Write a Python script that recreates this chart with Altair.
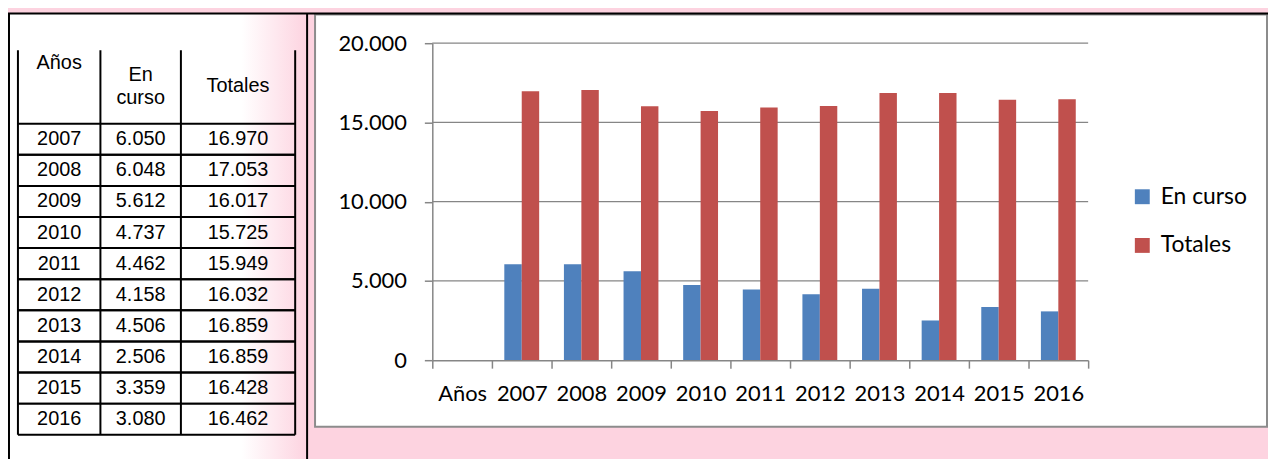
import altair as alt
import pandas as pd

# ---------------- data ----------------
years = ["2007", "2008", "2009", "2010", "2011", "2012", "2013", "2014", "2015", "2016"]
en_curso = [6050, 6048, 5612, 4737, 4462, 4158, 4506, 2506, 3359, 3080]
totales = [16970, 17053, 16017, 15725, 15949, 16032, 16859, 16859, 16428, 16462]
series = ["En curso", "Totales"]
colors = ["#4F81BD", "#C0504D"]
categories = ["Años"] + years
y_ticks = [0, 5000, 10000, 15000, 20000]
header = ["Años", ["En", "curso"], "Totales"]

bars_df = pd.DataFrame({
    "Año": years * 2,
    "Serie": [series[0]] * len(years) + [series[1]] * len(years),
    "Valor": en_curso + totales,
})
table_df = pd.DataFrame({"Año": years, "EnCurso": en_curso, "Totales": totales})
grid_df = pd.DataFrame({"v": y_ticks[1:]})
one = pd.DataFrame({"d": [0]})

PINK = "#FDD3E0"
GRAY = "#868686"
FMT = "replace(format({f}, ','), ',', '.')"

# ---------------- decoration (page frame, table box) ----------------
tbl_fill = alt.Chart(one).mark_rect(
    fill=alt.LinearGradient(
        gradient="linear", x1=0, x2=1, y1=0, y2=0,
        stops=[alt.GradientStop(offset=0, color="#FFFFFF"),
               alt.GradientStop(offset=0.78, color="#FFFFFF"),
               alt.GradientStop(offset=1, color=PINK)],
    )
).encode(x=alt.value(-426), x2=alt.value(-126), y=alt.value(-30), y2=alt.value(420))

frame = alt.Chart(one).mark_rect(fill="#FFFFFF", stroke="#8C8C8C", strokeWidth=2).encode(
    x=alt.value(-118), x2=alt.value(840), y=alt.value(-29), y2=alt.value(386)
)

top_line = alt.Chart(one).mark_rule(color="black", strokeWidth=2).encode(
    x=alt.value(-427), x2=alt.value(850), y=alt.value(-30)
)
box_lines = [
    alt.Chart(one).mark_rule(color="black", strokeWidth=2).encode(
        x=alt.value(xv), y=alt.value(-30), y2=alt.value(420))
    for xv in (-426, -126)
]

# ---------------- table ----------------
row_scale = alt.Scale(domain=years, range=[81, 394], paddingInner=0, paddingOuter=0)
col_lines = [
    alt.Chart(one).mark_rule(color="black", strokeWidth=2).encode(
        x=alt.value(xv), y=alt.value(7), y2=alt.value(394))
    for xv in (-417, -334, -253, -138)
]
row_lines = [
    alt.Chart(table_df).mark_rule(color="black", strokeWidth=2).encode(
        y=alt.Y("Año:N", scale=row_scale, axis=None, bandPosition=bp),
        x=alt.value(-417), x2=alt.value(-138))
    for bp in (0, 1)
]
col_x = [-375.5, -293.5, -195.5]
tbl_base = alt.Chart(table_df).transform_calculate(
    t1=FMT.format(f="datum.EnCurso"),
    t2=FMT.format(f="datum.Totales"),
)
cells = [
    tbl_base.mark_text(font="Liberation Sans", fontSize=20, color="black").encode(
        x=alt.value(cx),
        y=alt.Y("Año:N", scale=row_scale, axis=None),
        text=alt.Text(f"{fld}:N"))
    for cx, fld in zip(col_x, ["Año", "t1", "t2"])
]
head_y = [20, 32.5, 43.5]
heads = [
    alt.Chart(one).mark_text(font="Liberation Sans", fontSize=20, color="black",
                             lineHeight=22.5, baseline="middle").encode(
        x=alt.value(cx), y=alt.value(hy), text=alt.value(h))
    for cx, hy, h in zip(col_x, head_y, header)
]

# ---------------- chart ----------------
grid = alt.Chart(grid_df).mark_rule(color=GRAY, strokeWidth=1.3).encode(
    y=alt.Y("v:Q", scale=alt.Scale(domain=[0, 20000], nice=False), axis=None)
)

bars = alt.Chart(bars_df).mark_bar().encode(
    x=alt.X("Año:N", sort=categories,
            scale=alt.Scale(domain=categories, paddingInner=0, paddingOuter=0),
            axis=alt.Axis(title=None, labelAngle=0, tickBand="extent", tickSize=8,
                          tickColor=GRAY, tickWidth=1.5, domainColor=GRAY, domainWidth=1.5,
                          labelFont="Lato", labelFontSize=22, labelColor="black",
                          labelPadding=16, zindex=1)),
    xOffset=alt.XOffset("Serie:N", scale=alt.Scale(domain=series, paddingOuter=0.71, paddingInner=0)),
    y=alt.Y("Valor:Q", scale=alt.Scale(domain=[0, 20000], nice=False),
            axis=alt.Axis(title=None, values=y_ticks, grid=False, tickSize=8,
                          tickColor=GRAY, tickWidth=1.5, domainColor=GRAY, domainWidth=1.5,
                          labelFont="Lato", labelFontSize=22, labelColor="black",
                          labelPadding=18, zindex=1,
                          labelExpr=FMT.format(f="datum.value"))),
    color=alt.Color("Serie:N", scale=alt.Scale(domain=series, range=colors),
                    legend=alt.Legend(title=None, orient="none", legendX=703, legendY=143,
                                      symbolType="square", symbolSize=225, symbolStrokeWidth=0,
                                      symbolOpacity=1, labelFont="Lato", labelFontSize=23,
                                      labelColor="black", labelOffset=7, rowPadding=25)),
)

layers = [tbl_fill, frame, top_line] + box_lines + col_lines + row_lines + cells + heads + [grid, bars]

chart = alt.layer(*layers).resolve_scale(
    x="independent", y="independent"
).properties(
    width=660, height=319,
    autosize=alt.AutoSizeParams(type="none"),
    padding={"left": 427, "top": 34, "right": 181, "bottom": 98},
).configure(background=PINK).configure_view(stroke=None)

chart.save("out.html", embed_options={"renderer": "svg", "actions": False})
